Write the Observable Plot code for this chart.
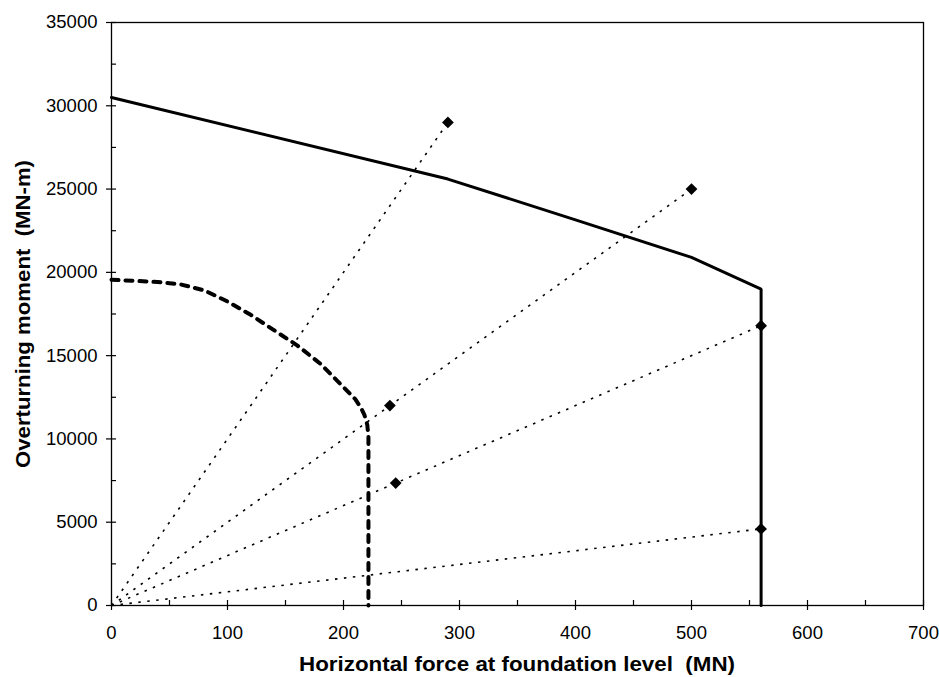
<!DOCTYPE html>
<html><head><meta charset="utf-8">
<script src="https://cdn.jsdelivr.net/npm/d3@7"></script>
<script src="https://cdn.jsdelivr.net/npm/@observablehq/plot@0.6"></script>
<style>html,body{margin:0;padding:0;background:#fff}svg{display:block}</style>
</head><body><div id="chart"></div>
<script>
// Tick values
const xTicks = [0, 100, 200, 300, 400, 500, 600, 700];
const xMinor = [50, 150, 250, 350, 450, 550, 650];
const yTicks = [0, 5000, 10000, 15000, 20000, 25000, 30000, 35000];
const yMinor = [2500, 7500, 12500, 17500, 22500, 27500, 32500];

// Solid envelope line
const solidX = [0, 290, 400, 500, 560, 560];
const solidY = [30500, 25600, 23150, 20900, 19000, 0];

// Thick dashed curve
const dashX = [0, 20, 40, 60, 80, 100, 120, 140, 160, 180, 200, 210, 215, 218, 220.5, 221.5, 221.5];
const dashY = [19560, 19490, 19420, 19270, 18920, 18250, 17450, 16530, 15620, 14520, 13110, 12400, 11880, 11450, 10850, 10100, 0];

// Dotted rays from origin (end points)
const rayX = [290, 500, 560, 560];
const rayY = [29000, 25000, 16800, 4600];

// Diamond markers
const ptX = [290, 500, 240, 245, 560, 560];
const ptY = [29000, 25000, 12000, 7350, 16800, 4600];

const solid = solidX.map((x, i) => ({x, y: solidY[i]}));
const dashed = dashX.map((x, i) => ({x, y: dashY[i]}));
const rays = rayX.map((x, i) => ({x1: 0, y1: 0, x2: x, y2: rayY[i]}));
const pts = ptX.map((x, i) => ({x, y: ptY[i]}));

const chart = Plot.plot({
  width: 939, height: 677,
  marginLeft: 111, marginRight: 16, marginTop: 22, marginBottom: 72,
  style: {fontFamily: "'Liberation Sans', Arial, sans-serif", fontSize: "18px", color: "#000", background: "#fff"},
  x: {domain: [0, 700]},
  y: {domain: [0, 35000]},
  marks: [
    Plot.axisX({ticks: xTicks, tickSize: 10, dy: -5, fill: "none", label: null, strokeWidth: 1.2}),
    Plot.axisX({ticks: xMinor, tickSize: 5, dy: -5, fill: "none", label: null, strokeWidth: 1.2}),
    Plot.axisX({ticks: xTicks, tickSize: 0, tickPadding: 20, label: null, fontSize: 18.5, tickFormat: d => String(d)}),
    Plot.axisY({ticks: yTicks, tickSize: 10, dx: 5, fill: "none", label: null, strokeWidth: 1.2}),
    Plot.axisY({ticks: yMinor, tickSize: 5, dx: 5, fill: "none", label: null, strokeWidth: 1.2}),
    Plot.axisY({ticks: yTicks, tickSize: 0, tickPadding: 14, label: null, fontSize: 18.5, tickFormat: d => String(d)}),
    Plot.link(rays, {x1: "x1", y1: "y1", x2: "x2", y2: "y2", stroke: "#000", strokeWidth: 1.6, strokeDasharray: "2.5,6.5"}),
    Plot.line(dashed, {x: "x", y: "y", stroke: "#000", strokeWidth: 4, strokeDasharray: "7,7"}),
    Plot.line(solid, {x: "x", y: "y", stroke: "#000", strokeWidth: 3, strokeLinejoin: "miter"}),
    Plot.dot(pts, {x: "x", y: "y", symbol: "diamond2", r: 5.3, fill: "#000", stroke: "none"}),
    Plot.frame({stroke: "#000", strokeWidth: 1.3})
  ]
});

const svg = d3.select(chart);
svg.append("text")
  .attr("x", 517).attr("y", 671)
  .attr("text-anchor", "middle")
  .attr("font-family", "'Liberation Sans', Arial, sans-serif")
  .attr("font-weight", "bold").attr("font-size", 20)
  .attr("textLength", 436).attr("lengthAdjust", "spacingAndGlyphs")
  .text("Horizontal force at foundation level  (MN)");
svg.append("text")
  .attr("transform", "translate(30,314) rotate(-90)")
  .attr("text-anchor", "middle")
  .attr("font-family", "'Liberation Sans', Arial, sans-serif")
  .attr("font-weight", "bold").attr("font-size", 20)
  .attr("textLength", 308).attr("lengthAdjust", "spacingAndGlyphs")
  .text("Overturning moment  (MN-m)");

document.getElementById("chart").appendChild(chart);
</script></body></html>
